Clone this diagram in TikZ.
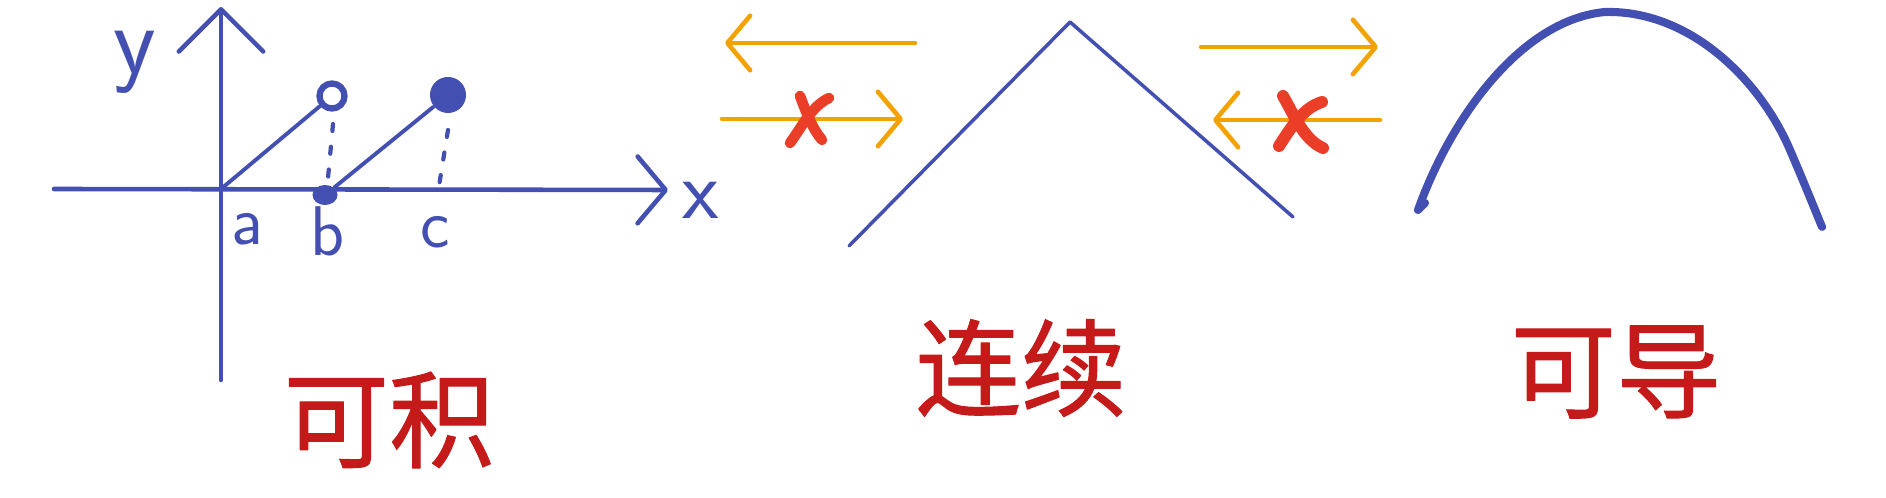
\documentclass[tikz,border=0pt]{standalone}
\usepackage{fontspec}
\newfontfamily\cjk{Noto Sans CJK SC}[FakeBold=1]
\usetikzlibrary{arrows.meta,shapes.geometric}
\definecolor{penblue}{RGB}{67,80,178}
\definecolor{penorange}{RGB}{243,162,0}
\definecolor{penred}{RGB}{234,62,40}
\definecolor{inkred}{RGB}{196,26,26}

\begin{document}
\begin{tikzpicture}[
    x=0.01cm, y=-0.01cm,
    line cap=round, line join=round,
    axisline/.style={penblue, line width=1.3pt},
    penline/.style={penblue, line width=1.1pt},
    hint/.style={penblue, line width=1.2pt, dash pattern=on 2pt off 4.5pt},
    dir/.style={penorange, line width=1.3pt, -{Straight Barb[length=6.5pt,width=15.5pt,round]}},
    nope/.style={penred, line width=3pt},
    dot/.style={fill=penblue, draw=none, inner sep=0pt},
    hole/.style={circle, draw=penblue, line width=1.8pt, inner sep=0pt, minimum size=0.25cm},
    letter/.style={text=penblue, inner sep=0pt, font=\sffamily\fontsize{20}{22}\selectfont},
    cnlabel/.style={text=inkred, inner sep=0pt, font=\cjk\fontsize{30}{34}\selectfont}
]
    \useasboundingbox (0,0) rectangle (1886,498);

    % Integrable: axes
    \coordinate (xstart) at (54,189);
    \coordinate (xend) at (668,190);
    \coordinate (ystart) at (221,380);
    \coordinate (yend) at (221,7);
    \coordinate (O) at (221,189);
    \draw[axisline, -{Straight Barb[length=8pt,width=19pt,round]}] (xstart) -- (xend);
    \draw[axisline, -{Straight Barb[length=12pt,width=24pt,round]}] (ystart) -- (yend);
    \node[letter, font=\sffamily\fontsize{28}{30}\selectfont] (ylab) at (135,62) {y};
    \node[letter, font=\sffamily\fontsize{24}{26}\selectfont] (xlab) at (701,200) {x};
    \node[letter] (alab) at (247,229) {a};
    \node[letter] (blab) at (328,231) {b};
    \node[letter] (clab) at (435,232) {c};

    % Integrable: pieces
    \node[hole] (open) at (332,96) {};
    \node[dot, ellipse, minimum width=0.25cm, minimum height=0.2cm] (bdot) at (325,195) {};
    \node[dot, circle, minimum size=0.36cm] (full) at (448,95) {};
    \draw[penline] (O) -- (open);
    \draw[penline] (bdot) -- (full);
    \coordinate (btop) at (333,124);
    \coordinate (bfoot) at (328,178);
    \coordinate (ctop) at (448,130);
    \coordinate (cfoot) at (439,186);
    \draw[hint] (btop) -- (bfoot);
    \draw[hint] (ctop) -- (cfoot);

    \node[cnlabel] (integrable) at (389,420) {可积};

    % Continuous: corner
    \coordinate (tl) at (849,246);
    \coordinate (tp) at (1070,22);
    \coordinate (tr) at (1293,217);
    \draw[penline, line width=1pt] (tl) -- (tp) -- (tr);

    % Continuous: one-sided slopes
    \coordinate (la) at (915,43);
    \coordinate (lb) at (725,43);
    \coordinate (lc) at (722,119);
    \coordinate (ld) at (903,119);
    \coordinate (ra) at (1201,47);
    \coordinate (rb) at (1378,47);
    \coordinate (rc) at (1380,120);
    \coordinate (rd) at (1213,120);
    \draw[dir] (la) -- (lb);
    \draw[dir] (lc) -- (ld);
    \draw[dir] (ra) -- (rb);
    \draw[dir] (rc) -- (rd);

    % Crosses
    \draw[nope] (790,143) .. controls (803,125) and (812,106) .. (829,98);
    \draw[nope] (800,96) .. controls (806,112) and (812,128) .. (822,140);
    \draw[nope, line width=3.4pt] (1279,146) .. controls (1292,126) and (1303,108) .. (1322,102);
    \draw[nope, line width=3.4pt] (1283,96) .. controls (1294,115) and (1304,140) .. (1323,148);

    \node[cnlabel] (continuous) at (1021,368) {连续};

    % Derivable: smooth arc
    \draw[penblue, line width=2.3pt] (1425,203) -- (1418,210)
        .. controls (1450,120) and (1520,20) .. (1605,12)
        .. controls (1690,10) and (1760,80) .. (1790,150)
        .. controls (1805,185) and (1815,210) .. (1822,227);

    \node[cnlabel] (derivable) at (1616,372) {可导};
\end{tikzpicture}
\end{document}
